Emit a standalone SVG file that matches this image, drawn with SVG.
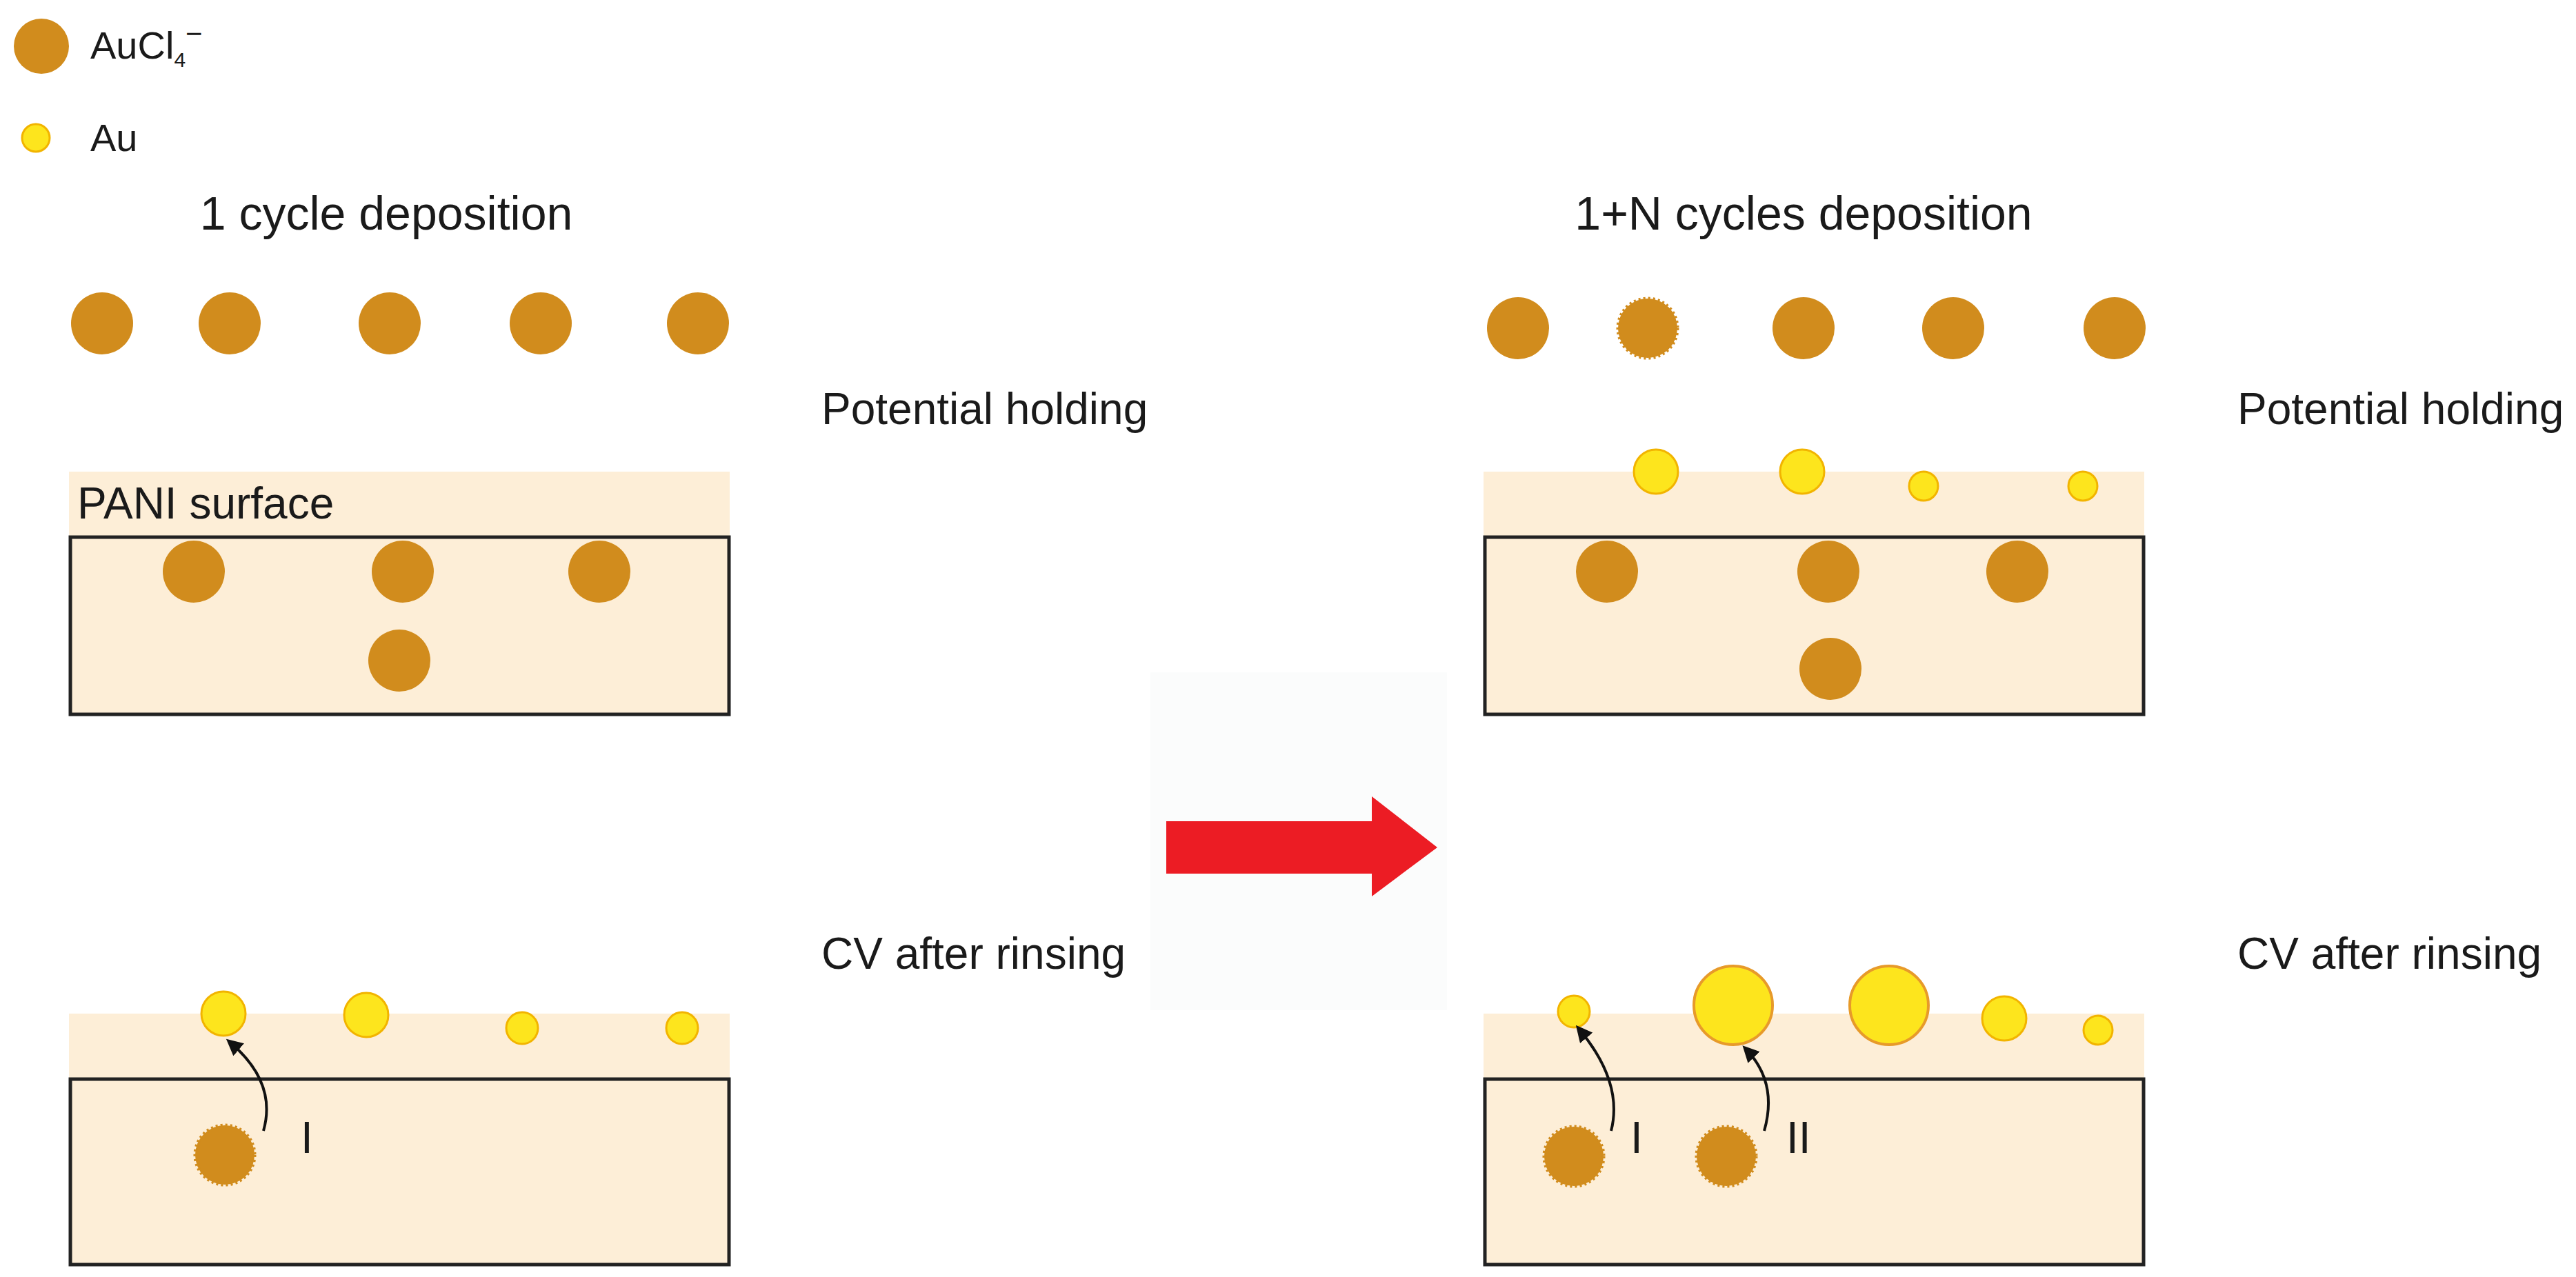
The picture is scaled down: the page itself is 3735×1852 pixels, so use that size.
<svg xmlns="http://www.w3.org/2000/svg" width="3735" height="1852" viewBox="0 0 3735 1852">
<style>
text{font-family:"Liberation Sans",Arial,sans-serif;fill:#1a1a1a}
.t{font-size:64px}
.h{font-size:68px}
.b{fill:#d18c1d}
.j{fill:#d18c1d;stroke:#d18c1d;stroke-width:5;stroke-dasharray:3 4}
.y{fill:#fde51d;stroke:#f2b400;stroke-width:3}
.Y{fill:#fde51d;stroke:#e79a2a;stroke-width:4}
.s{fill:#fdeed7}
.box{fill:#fdeed7;stroke:#222;stroke-width:5}
.a{fill:none;stroke:#111;stroke-width:4;marker-end:url(#h)}
</style>
<defs><marker id="h" markerWidth="6" markerHeight="6" refX="4" refY="3" orient="auto"><path d="M0,0L6,3L0,6z" fill="#111"/></marker></defs>
<rect width="3735" height="1852" fill="#fff"/>
<g id="legend">
<circle class="b" cx="60" cy="67" r="40"/>
<text x="131" y="85" style="font-size:56px">AuCl<tspan style="font-size:30px" dy="12">4</tspan><tspan dy="-34" style="font-size:42px">−</tspan></text>
<circle class="y" cx="52" cy="200" r="20"/>
<text x="131" y="219" style="font-size:56px">Au</text>
</g>
<g id="left">
<text class="h" x="560" y="333" text-anchor="middle">1 cycle deposition</text>
<circle class="b" cx="148" cy="469" r="45"/><circle class="b" cx="333" cy="469" r="45"/><circle class="b" cx="565" cy="469" r="45"/><circle class="b" cx="784" cy="469" r="45"/><circle class="b" cx="1012" cy="469" r="45"/>
<text class="t" x="1191" y="615">Potential holding</text>
<rect class="s" x="100" y="684" width="958" height="95"/>
<rect class="box" x="102" y="779" width="955" height="257"/>
<text class="t" x="112" y="752">PANI surface</text>
<circle class="b" cx="281" cy="829" r="45"/><circle class="b" cx="584" cy="829" r="45"/><circle class="b" cx="869" cy="829" r="45"/><circle class="b" cx="579" cy="958" r="45"/>
<text class="t" x="1191" y="1405">CV after rinsing</text>
<rect class="s" x="100" y="1470" width="958" height="95"/>
<rect class="box" x="102" y="1565" width="955" height="269"/>
<circle class="y" cx="324" cy="1470" r="32"/><circle class="y" cx="531" cy="1472" r="32"/><circle class="y" cx="757" cy="1491" r="23"/><circle class="y" cx="989" cy="1491" r="23"/>
<circle class="j" cx="326" cy="1675" r="43"/>
<text class="t" x="436" y="1672">I</text>
</g>
<g id="arrow">
<rect x="1668" y="975" width="430" height="490" fill="#fbfcfc"/>
<path d="M1691,1191H1989V1155L2084,1229L1989,1300V1267H1691z" fill="#ec1c24"/>
</g>
<g id="right">
<text class="h" x="2615" y="333" text-anchor="middle">1+N cycles deposition</text>
<circle class="b" cx="2201" cy="476" r="45"/><circle class="j" cx="2389" cy="476" r="43"/><circle class="b" cx="2615" cy="476" r="45"/><circle class="b" cx="2832" cy="476" r="45"/><circle class="b" cx="3066" cy="476" r="45"/>
<text class="t" x="3244" y="615">Potential holding</text>
<rect class="s" x="2151" y="684" width="958" height="95"/>
<rect class="box" x="2153" y="779" width="955" height="257"/>
<circle class="y" cx="2401" cy="684" r="32"/><circle class="y" cx="2613" cy="684" r="32"/><circle class="y" cx="2789" cy="705" r="21"/><circle class="y" cx="3020" cy="705" r="21"/>
<circle class="b" cx="2330" cy="829" r="45"/><circle class="b" cx="2651" cy="829" r="45"/><circle class="b" cx="2925" cy="829" r="45"/><circle class="b" cx="2654" cy="970" r="45"/>
<text class="t" x="3244" y="1405">CV after rinsing</text>
<rect class="s" x="2151" y="1470" width="958" height="95"/>
<rect class="box" x="2153" y="1565" width="955" height="269"/>
<circle class="y" cx="2282" cy="1467" r="23"/><circle class="Y" cx="2513" cy="1458" r="57"/><circle class="Y" cx="2739" cy="1458" r="57"/><circle class="y" cx="2906" cy="1477" r="32"/><circle class="y" cx="3042" cy="1494" r="21"/>
<circle class="j" cx="2282" cy="1677" r="43"/><circle class="j" cx="2503" cy="1677" r="43"/>
<text class="t" x="2364" y="1672">I</text>
<text class="t" x="2590" y="1672">II</text>
</g>
<g id="connectors">
<path class="a" d="M382,1640Q402,1570 334,1512"/>
<path class="a" d="M2336,1640Q2354,1570 2290,1493"/>
<path class="a" d="M2558,1640Q2578,1570 2532,1522"/>
</g>
</svg>
